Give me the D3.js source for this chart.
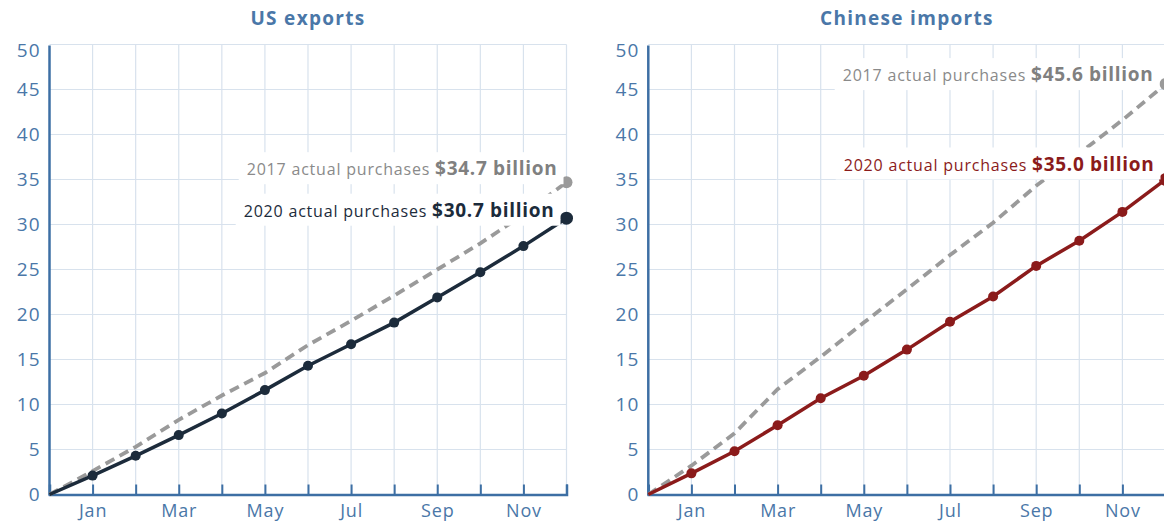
<!DOCTYPE html>
<html>
<head>
<meta charset="utf-8">
<script src="https://cdn.jsdelivr.net/npm/d3@7"></script>
<style>
  html, body { margin: 0; padding: 0; background: #ffffff; }
  svg { display: block; font-family: "Open Sans", "Noto Sans", sans-serif; }
</style>
</head>
<body>
<svg id="chart" width="1164" height="523"></svg>
<script>
// ---- data ----
const monthLabels = ["Jan","Feb","Mar","Apr","May","Jun","Jul","Aug","Sep","Oct","Nov","Dec"];
const shownMonthLabels = ["Jan","Mar","May","Jul","Sep","Nov"];
const yTicks = [0, 5, 10, 15, 20, 25, 30, 35, 40, 45, 50];
// cumulative purchases, $ billion; index 0 = start of year, 1..12 = end of each month
const usExports2020 = [0, 2.1, 4.3, 6.6, 9.0, 11.6, 14.3, 16.7, 19.1, 21.9, 24.7, 27.6, 30.7];
const usExports2017 = [0, 2.6, 5.3, 8.3, 11.0, 13.5, 16.6, 19.3, 22.1, 25.0, 27.9, 31.1, 34.7];
const cnImports2020 = [0, 2.35, 4.8, 7.7, 10.7, 13.2, 16.1, 19.2, 22.0, 25.4, 28.2, 31.4, 35.0];
const cnImports2017 = [0, 3.2, 6.8, 11.7, 15.3, 19.1, 22.8, 26.6, 30.2, 34.3, 37.9, 41.6, 45.6];
const titles = ["US exports", "Chinese imports"];
const label2017 = "2017 actual purchases ";
const label2020 = "2020 actual purchases ";

// ---- layout / style ----
const svg = d3.select("#chart");
const yTop = 44.5, yBottom = 494.5;
const panels = [
  { title: titles[0], x0: 49.5, x1: 566.5, s2020: usExports2020, s2017: usExports2017,
    c2020: "#1c2b3b", dy2017: -7, dy2020: -1.5, dx2017: -9, dx2020: -12 },
  { title: titles[1], x0: 648.3, x1: 1165.5, s2020: cnImports2020, s2017: cnImports2017,
    c2020: "#8b1b1b", dy2017: -3, dy2020: -9, dx2017: -12, dx2020: -11 }
];
const axisColor = "#3d6fa4";
const labelColor = "#4a77a8";
const gridColor = "#d8e2ed";
const grey = "#9a9a9a";
const greyText = "#8a8a8a";

const y = d3.scaleLinear().domain([0, 50]).range([yBottom, yTop]);

panels.forEach(p => {
  const x = d3.scaleLinear().domain([0, 12]).range([p.x0, p.x1]);
  const g = svg.append("g");
  const monthIdx = d3.range(1, 13);

  // title
  g.append("text")
    .attr("x", (p.x0 + p.x1) / 2).attr("y", 25)
    .attr("text-anchor", "middle")
    .attr("font-size", 19).attr("font-weight", 700)
    .attr("letter-spacing", 1.3)
    .attr("fill", labelColor)
    .text(p.title);

  // grid
  g.append("g").selectAll("line").data(yTicks.filter(d => d > 0)).join("line")
    .attr("x1", p.x0).attr("x2", p.x1)
    .attr("y1", d => y(d)).attr("y2", d => y(d))
    .attr("stroke", gridColor).attr("stroke-width", 1.2);
  g.append("g").selectAll("line").data(monthIdx).join("line")
    .attr("x1", d => x(d)).attr("x2", d => x(d))
    .attr("y1", y(50)).attr("y2", y(0))
    .attr("stroke", gridColor).attr("stroke-width", 1.2);

  // y tick labels
  g.append("g").selectAll("text").data(yTicks).join("text")
    .attr("x", p.x0 - 9)
    .attr("y", d => y(d) + (d === 50 ? 6 : 0))
    .attr("dy", "0.35em")
    .attr("text-anchor", "end")
    .attr("font-size", 19)
    .attr("letter-spacing", 1)
    .attr("fill", labelColor)
    .text(d => d);

  // bottom axis with upward ticks
  const xAxis = d3.axisBottom(x)
    .tickValues(monthIdx)
    .tickSize(-10)
    .tickFormat(d => shownMonthLabels.includes(monthLabels[d - 1]) ? monthLabels[d - 1] : "")
    .tickPadding(10);
  const ax = g.append("g").attr("transform", `translate(0,${y(0)})`).call(xAxis);
  ax.select(".domain").attr("stroke", axisColor).attr("stroke-width", 2.5);
  ax.selectAll(".tick line").attr("stroke", axisColor).attr("stroke-width", 2);
  ax.selectAll(".tick text")
    .attr("fill", labelColor).attr("font-size", 18)
    .attr("letter-spacing", 0.8)
    .attr("font-family", "Open Sans, sans-serif");

  // left axis line
  g.append("line")
    .attr("x1", p.x0).attr("x2", p.x0)
    .attr("y1", y(50) + 1).attr("y2", y(0) + 1)
    .attr("stroke", axisColor).attr("stroke-width", 2.5);

  const line = d3.line().x((d, i) => x(i)).y(d => y(d));

  // 2017 dashed
  g.append("path").datum(p.s2017)
    .attr("d", line).attr("fill", "none")
    .attr("stroke", grey).attr("stroke-width", 3.8)
    .attr("stroke-dasharray", "10,6");

  // 2020 solid
  g.append("path").datum(p.s2020)
    .attr("d", line).attr("fill", "none")
    .attr("stroke", p.c2020).attr("stroke-width", 3.5);
  g.append("g").selectAll("circle").data(p.s2020.slice(1, 12)).join("circle")
    .attr("cx", (d, i) => x(i + 1)).attr("cy", d => y(d))
    .attr("r", 5).attr("fill", p.c2020);

  // end dots
  g.append("circle").attr("cx", x(12)).attr("cy", y(p.s2017[12]))
    .attr("r", 6).attr("fill", grey);
  g.append("circle").attr("cx", x(12)).attr("cy", y(p.s2020[12]))
    .attr("r", 6.5).attr("fill", p.c2020);

  // annotations with white backgrounds
  function annotate(prefix, value, color, boldColor, dx, dy, v) {
    const ag = g.append("g");
    const rect = ag.append("rect").attr("fill", "#ffffff");
    const t = ag.append("text")
      .attr("x", x(12) + dx).attr("y", y(v) + dy)
      .attr("text-anchor", "end");
    t.append("tspan").attr("font-size", 16).attr("letter-spacing", 0.8)
      .attr("fill", color).text(prefix);
    t.append("tspan").attr("font-size", 19).attr("font-weight", 700)
      .attr("letter-spacing", 0.7)
      .attr("fill", boldColor).text("$" + value.toFixed(1) + " billion");
    const bb = t.node().getBBox();
    rect.attr("x", bb.x - 8).attr("y", bb.y - 3)
      .attr("width", bb.width + 14).attr("height", bb.height + 6);
  }
  annotate(label2017, p.s2017[12], greyText, "#808080", p.dx2017, p.dy2017, p.s2017[12]);
  annotate(label2020, p.s2020[12], p.c2020, p.c2020, p.dx2020, p.dy2020, p.s2020[12]);
});
</script>
</body>
</html>
